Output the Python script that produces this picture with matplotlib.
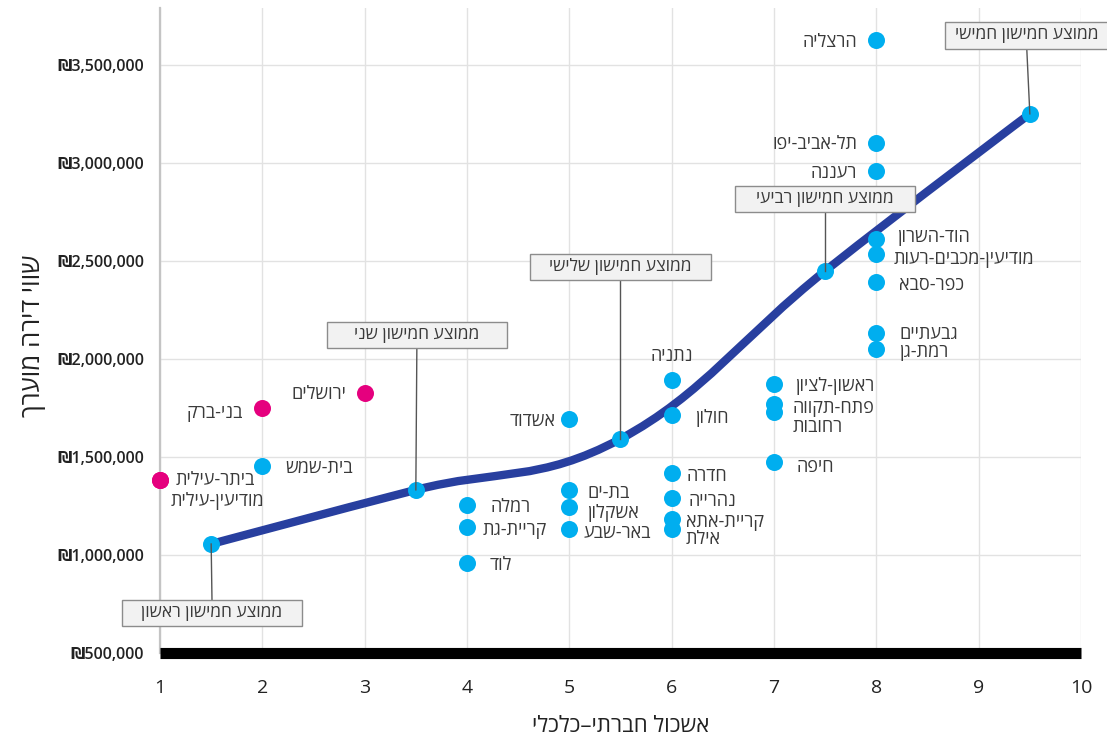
import matplotlib
matplotlib.use('Agg')
import matplotlib.pyplot as plt
from matplotlib.path import Path
from matplotlib.patches import PathPatch, Rectangle
from matplotlib.ticker import FuncFormatter

plt.rcParams['font.family'] = ['Open Sans', 'DejaVu Sans']

# ---- data ----
haredi_names = ['ביתר-עילית', 'מודיעין-עילית', 'בני-ברק', 'ירושלים']
haredi_cluster = [1, 1, 2, 3]
haredi_value = [1383000, 1383000, 1750000, 1826000]

city_names = ['בית-שמש', 'רמלה', 'קריית-גת', 'לוד',
              'אשדוד', 'בת-ים', 'אשקלון', 'באר-שבע',
              'נתניה', 'חולון', 'חדרה', 'נהרייה', 'קריית-אתא', 'אילת',
              'ראשון-לציון', 'פתח-תקווה', 'רחובות', 'חיפה',
              'הרצליה', 'תל-אביב-יפו', 'רעננה', 'הוד-השרון',
              'מודיעין-מכבים-רעות', 'כפר-סבא', 'גבעתיים', 'רמת-גן']
city_cluster = [2, 4, 4, 4,
                5, 5, 5, 5,
                6, 6, 6, 6, 6, 6,
                7, 7, 7, 7,
                8, 8, 8, 8, 8, 8, 8, 8]
city_value = [1454000, 1255000, 1143000, 959000,
              1694000, 1332000, 1246000, 1133000,
              1893000, 1714000, 1418000, 1291000, 1184000, 1133000,
              1870000, 1768000, 1730000, 1474000,
              3628000, 3102000, 2959000, 2612000,
              2536000, 2393000, 2133000, 2051000]

quintile_names = ['ממוצע חמישון ראשון', 'ממוצע חמישון שני', 'ממוצע חמישון שלישי',
                  'ממוצע חמישון רביעי', 'ממוצע חמישון חמישי']
quintile_x = [1.5, 3.5, 5.5, 7.5, 9.5]
quintile_value = [1056000, 1332000, 1592000, 2449000, 3250000]

x_title = 'אשכול חברתי–כלכלי'
y_title = 'שווי דירה מוערך'

# ---- label placement (pixels: ha, dx, dy) ----
label_pos = {
    'ביתר-עילית': ('center', 55, 2), 'מודיעין-עילית': ('center', 57, -19),
    'בני-ברק': ('right', -19, -3), 'ירושלים': ('right', -18, 1),
    'בית-שמש': ('left', 23, 0), 'רמלה': ('left', 23, 0),
    'קריית-גת': ('left', 16, -1), 'לוד': ('left', 23, 0),
    'אשדוד': ('right', -14, 0), 'בת-ים': ('left', 18, -1),
    'אשקלון': ('left', 18, -4), 'באר-שבע': ('left', 14, -2),
    'נתניה': ('center', 0, 26), 'חולון': ('left', 23, -1),
    'חדרה': ('left', 15, -1), 'נהרייה': ('left', 17, -1),
    'קריית-אתא': ('left', 14, -1), 'אילת': ('left', 14, -8),
    'ראשון-לציון': ('left', 21, 0), 'פתח-תקווה': ('left', 19, -2),
    'רחובות': ('left', 19, -13), 'חיפה': ('left', 23, -3),
    'הרצליה': ('right', -19, 0), 'תל-אביב-יפו': ('right', -19, 1),
    'רעננה': ('right', -19, 0), 'הוד-השרון': ('left', 21, 4),
    'מודיעין-מכבים-רעות': ('left', 17, -3), 'כפר-סבא': ('left', 23, -1),
    'גבעתיים': ('left', 23, 1), 'רמת-גן': ('left', 23, -1),
}
LABEL_SHIFT = -2
# annotation boxes: (box centre x, box centre y, text x)
box_pos = [(1.508, 704000, 1.508), (3.51, 2122000, 3.51), (5.5, 2469000, 5.5),
           (7.5, 2816000, 7.5), (9.55, 3650000, 9.47)]
BOX_W = 1.76
BOX_H = 134000

BLUE = '#00AEEF'
PINK = '#E5007E'
NAVY = '#283F9F'
TEXT = '#3a3a3a'


def rtl(s):
    # matplotlib has no bidi: reverse hebrew for visual order
    return s[::-1]


def spline_path(xs, ys, smoothing=1.5):
    n = len(xs)
    left = [(xs[i], ys[i]) for i in range(n)]
    right = [(xs[i], ys[i]) for i in range(n)]
    for i in range(1, n - 1):
        d = smoothing + 1
        lx = (smoothing * xs[i] + xs[i - 1]) / d
        ly = (smoothing * ys[i] + ys[i - 1]) / d
        rx = (smoothing * xs[i] + xs[i + 1]) / d
        ry = (smoothing * ys[i] + ys[i + 1]) / d
        corr = (ry - ly) * (rx - xs[i]) / (rx - lx) + ys[i] - ry
        ly += corr
        ry += corr
        if ly > ys[i - 1] and ly > ys[i]:
            ly = max(ys[i - 1], ys[i]); ry = 2 * ys[i] - ly
        elif ly < ys[i - 1] and ly < ys[i]:
            ly = min(ys[i - 1], ys[i]); ry = 2 * ys[i] - ly
        if ry > ys[i + 1] and ry > ys[i]:
            ry = max(ys[i + 1], ys[i]); ly = 2 * ys[i] - ry
        elif ry < ys[i + 1] and ry < ys[i]:
            ry = min(ys[i + 1], ys[i]); ly = 2 * ys[i] - ry
        left[i] = (lx, ly)
        right[i] = (rx, ry)
    verts = [(xs[0], ys[0])]
    codes = [Path.MOVETO]
    for i in range(1, n):
        verts += [right[i - 1], left[i], (xs[i], ys[i])]
        codes += [Path.CURVE4] * 3
    return Path(verts, codes)


fig = plt.figure(figsize=(11.07, 7.42), dpi=100)
ax = fig.add_axes([160 / 1107, 1 - 653 / 742, (1081 - 160) / 1107, (653 - 8) / 742])
ax.set_xlim(1, 10)
ax.set_ylim(500000, 3790000)

ax.set_xticks(range(1, 11))
ax.set_yticks(range(500000, 3500001, 500000))
ax.yaxis.set_major_formatter(FuncFormatter(lambda v, p: f'₪{int(v):,}'))
ax.tick_params(axis='both', length=0)
ax.tick_params(axis='y', pad=11.5, labelsize=11.5, labelcolor='#222222')
ax.tick_params(axis='x', pad=18.5, labelsize=14, labelcolor='#222222')
for t in ax.get_yticklabels():
    t.set_fontweight('semibold')
ax.grid(True, color='#e2e2e2', linewidth=1)
ax.set_axisbelow(True)
for s in ('top', 'right'):
    ax.spines[s].set_visible(False)
ax.spines['left'].set_color('#c4c4c4')
ax.spines['left'].set_linewidth(1.6)
ax.spines['bottom'].set_color('black')
ax.spines['bottom'].set_linewidth(8)
ax.spines['bottom'].set_capstyle('butt')
ax.spines['bottom'].set_zorder(6)

# quintile average line
ax.add_patch(PathPatch(spline_path(quintile_x, quintile_value), facecolor='none',
                       edgecolor=NAVY, linewidth=6, capstyle='butt', zorder=3))
ax.scatter(quintile_x, quintile_value, s=150, color=BLUE, zorder=4, linewidths=0)

# cities
ax.scatter(city_cluster, city_value, s=150, color=BLUE, zorder=4, linewidths=0, clip_on=False)
ax.scatter(haredi_cluster, haredi_value, s=150, color=PINK, zorder=4, linewidths=0, clip_on=False)

for name, cx, cy in zip(city_names + haredi_names, city_cluster + haredi_cluster,
                        city_value + haredi_value):
    ha, dx, dy = label_pos[name]
    ax.annotate(rtl(name), (cx, cy), xytext=(dx, dy + LABEL_SHIFT), textcoords='offset pixels',
                ha=ha, va='center', fontsize=13, color=TEXT, zorder=5)

# quintile annotation boxes
for name, qx, qy, (bx, by, tx) in zip(quintile_names, quintile_x, quintile_value, box_pos):
    edge = by - BOX_H / 2 if by > qy else by + BOX_H / 2
    ax.plot([tx, qx], [edge, qy], color='#555555', linewidth=1, zorder=5, clip_on=False)
    ax.add_patch(Rectangle((bx - BOX_W / 2, by - BOX_H / 2), BOX_W, BOX_H,
                           facecolor='#f2f2f2', edgecolor='#8c8c8c', linewidth=1,
                           zorder=7, clip_on=False))
    ax.text(tx, by, rtl(name), ha='center', va='center', fontsize=12.5,
            color=TEXT, zorder=8, clip_on=False)

fig.text(621 / 1107, 1 - 727 / 742, rtl(x_title), ha='center', va='center',
         fontsize=16, color='#222222')
fig.text(34 / 1107, 1 - 336 / 742, rtl(y_title), ha='center', va='center',
         rotation=90, fontsize=18.5, color='#222222')

fig.savefig('out.png', dpi=100)
